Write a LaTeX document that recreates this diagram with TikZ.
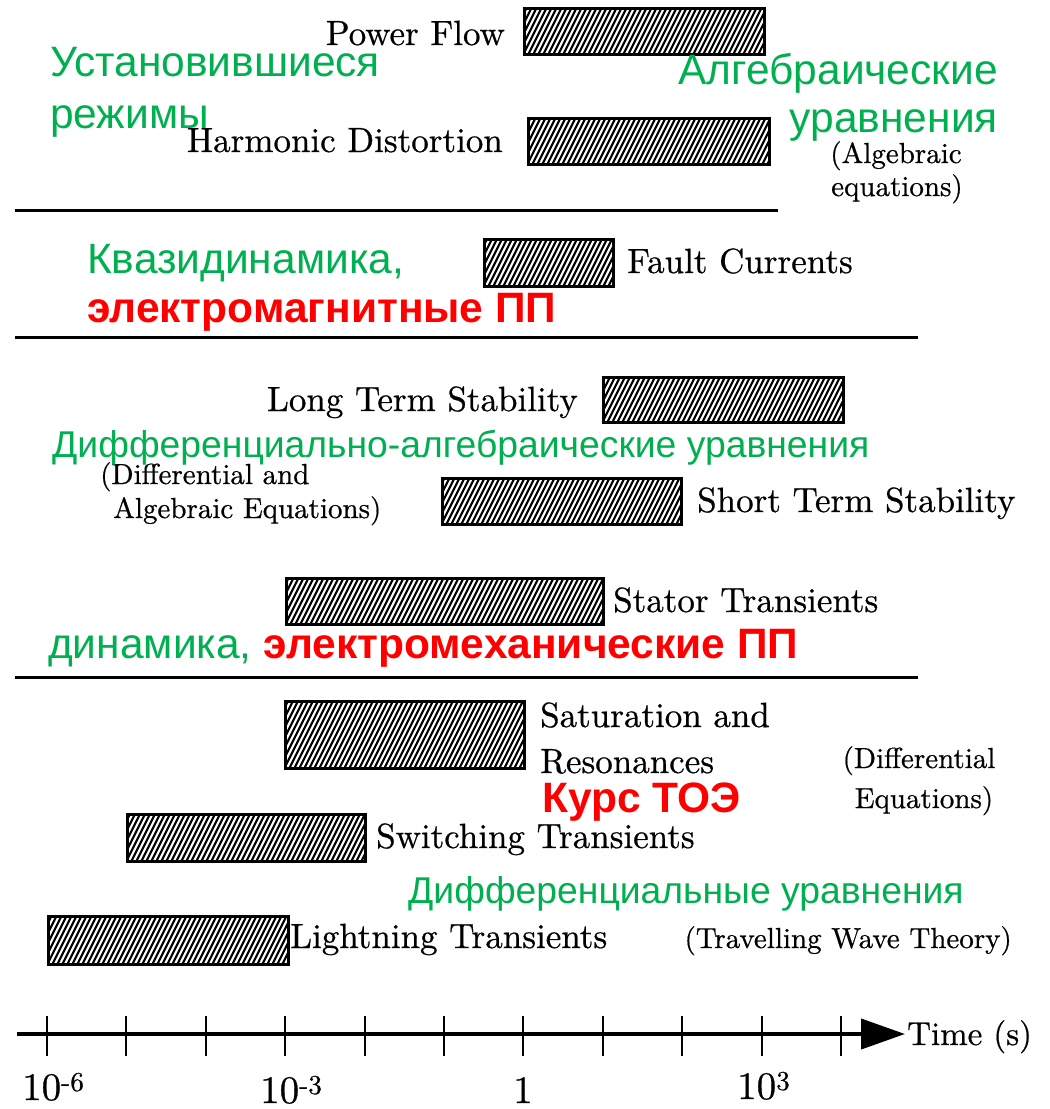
\documentclass[tikz,border=0pt]{standalone}
\usepackage{fontspec}
\setmainfont{lmroman10-regular.otf}[FakeBold=0.6]
\newfontfamily\ru{Liberation Sans}
\usetikzlibrary{arrows.meta}
\definecolor{grn}{RGB}{0,176,80}
\definecolor{rd}{RGB}{255,0,0}
\tikzset{
  hbar/.style={draw, line width=2.5pt, inner sep=0pt, anchor=north west},
  hline/.style={line width=2.2pt},
  lbl/.style={font=\fontsize{35}{40}\selectfont, inner sep=0pt},
  sml/.style={font=\fontsize{29}{34}\selectfont, inner sep=0pt},
  ax/.style={font=\fontsize{39}{44}\selectfont, inner sep=0pt},
  gr/.style={font=\ru\fontsize{42.5}{48}\selectfont, text=grn, inner sep=0pt},
  grs/.style={font=\ru\fontsize{37.3}{42}\selectfont, text=grn, inner sep=0pt},
  rb/.style={font=\ru\bfseries\fontsize{42.5}{48}\selectfont, text=rd, inner sep=0pt},
  sep/.style={line width=3pt},
}
\newcommand\hatchbar[5]{%
  \begin{scope}
    \clip (#2,#3) rectangle (#4,#5);
    \foreach \k in {-15,...,66}{
      \draw[hline] ({#2+\k*5},{#5+2}) -- ++({0.5*(#5-#3)+2},{-(#5-#3)-4});
    }
  \end{scope}
  \node[hbar, minimum width={(#4-#2)*1pt}, minimum height={(#5-#3)*1pt}] (#1) at (#2,#3) {};}
\begin{document}
\begin{tikzpicture}[x=1pt,y=-1pt]
\useasboundingbox (0,0) rectangle (1050,1109);
% bars
\hatchbar{pf}{523}{7}{763}{53}
\hatchbar{hd}{527}{117}{768}{163}
\hatchbar{fc}{483}{238}{612}{285}
\hatchbar{lts}{602}{376}{842}{421}
\hatchbar{sts}{441}{477}{680}{523}
\hatchbar{st}{285}{577}{602}{623}
\hatchbar{sr}{284}{700}{523}{767}
\hatchbar{sw}{126}{813}{364}{860}
\hatchbar{lt}{47}{915}{287}{963}
% separator lines
\coordinate (l1a) at (15,210); \coordinate (l1b) at (778,210);
\coordinate (l2a) at (15,337); \coordinate (l2b) at (918,337);
\coordinate (l3a) at (15,677); \coordinate (l3b) at (918,677);
\draw[sep] (l1a) -- (l1b);
\draw[sep] (l2a) -- (l2b);
\draw[sep] (l3a) -- (l3b);
% black labels
\node[lbl, anchor=base east] (tpf) at (505,45) {Power Flow};
\node[lbl, anchor=base east] (thd) at (503,152) {Harmonic Distortion};
\node[lbl, anchor=base west] (tfc) at (627,273) {Fault Currents};
\node[lbl, anchor=base east] (tlts) at (578,411) {Long Term Stability};
\node[lbl, anchor=base west] (tsts) at (697,512) {Short Term Stability};
\node[lbl, anchor=base west] (tst) at (613,612) {Stator Transients};
\node[lbl, anchor=base west] (tsr1) at (540,727) {Saturation and};
\node[lbl, anchor=base west] (tsr2) at (540,773) {Resonances};
\node[lbl, anchor=base west] (tsw) at (376,848) {Switching Transients};
\node[lbl, anchor=base west] (tlt) at (290,948) {Lightning Transients};
% small black labels
\node[sml, anchor=base] (ae1) at (896,163) {(Algebraic};
\node[sml, anchor=base] (ae2) at (897,196) {equations)};
\node[sml, anchor=base west] (dae1) at (100,484) {(Differential and};
\node[sml, anchor=base west] (dae2) at (113,518) {Algebraic Equations)};
\node[sml, anchor=base] (de1) at (919,768) {(Differential};
\node[sml, anchor=base] (de2) at (924,808) {Equations)};
\node[sml, anchor=base east] (twt) at (1012,948) {(Travelling Wave Theory)};
% green / red labels
\node[gr, anchor=base west] (g1) at (50,76) {Установившиеся};
\node[gr, anchor=base west] (g2) at (50,128) {режимы};
\node[gr, anchor=base east] (g3) at (998,84) {Алгебраические};
\node[gr, anchor=base east] (g4) at (998,132) {уравнения};
\node[gr, anchor=base west] (g5) at (87,273) {Квазидинамика,};
\node[rb, anchor=base west] (r1) at (87,322) {электромагнитные ПП};
\node[grs, anchor=base west] (g6) at (52,457) {Дифференциально-алгебраические уравнения};
\node[gr, anchor=base west] (g7) at (48,658) {динамика, {\bfseries\color{rd}электромеханические ПП}};
\node[rb, anchor=base west] (r2) at (542,812) {Курс ТОЭ};
\node[grs, anchor=base west] (g8) at (408,903) {Дифференциальные уравнения};
% axis
\coordinate (a0) at (17,1034);
\coordinate (a1) at (905,1034);
\draw[line width=4pt, -{Triangle[length=44pt,width=30pt]}] (a0) -- (a1);
\foreach \k in {0,...,10}{
  \draw[line width=2pt] ({47+79.4*\k},1016) -- ({47+79.4*\k},1056);
}
\node[font=\fontsize{33}{38}\selectfont, inner sep=0pt, anchor=base west] (time) at (907,1045) {Time (s)};
\node[ax, anchor=base west] (x6) at (22,1100) {10\textsuperscript{-6}};
\node[ax, anchor=base west] (x3) at (260,1103) {10\textsuperscript{-3}};
\node[ax, anchor=base] (x0) at (523,1103) {1};
\node[ax, anchor=base west] (x33) at (737,1099) {10\textsuperscript{3}};
\end{tikzpicture}
\end{document}
